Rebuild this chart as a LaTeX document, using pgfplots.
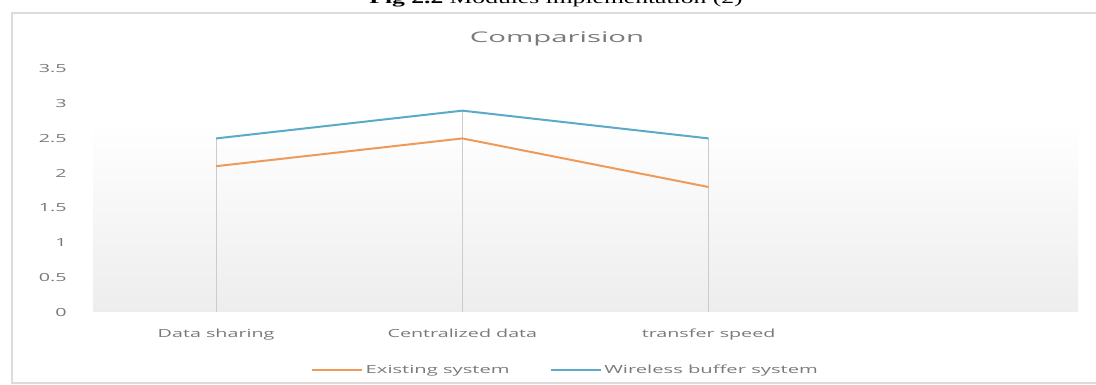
\documentclass[border=0pt]{standalone}
\usepackage{fontspec}
\setmainfont{Liberation Serif}
\newfontfamily\osans{Open Sans}
\usepackage{graphicx}
\usepackage{pgfplots}
\pgfplotsset{compat=1.18}
\definecolor{orgline}{HTML}{EE9A5A}
\definecolor{blueline}{HTML}{5AAAC8}
\definecolor{txt}{HTML}{7A7A7A}
\definecolor{framec}{HTML}{DCDCDC}
\newcommand{\sx}[1]{\scalebox{1.76}[1]{#1}}
\newcommand{\slg}[1]{\scalebox{1.8}[1]{#1}}
\begin{document}
\begin{tikzpicture}[x=1pt,y=1pt]
\useasboundingbox (0,0) rectangle (822,288.75);
\fill[white] (0,0) rectangle (822,288.75);
\draw[framec, line width=0.8pt] (9,1.5) rectangle (830,279);
\node[anchor=base, inner sep=0] at (417,285.75) {\fontsize{12}{14}\selectfont\scalebox{1.6}[1]{\textbf{Fig 2.2} Modules implementation (2)}};
\node[anchor=base, inner sep=0, text=txt] at (417.75,256.5) {\osans\fontsize{11}{13}\selectfont\scalebox{2}[1]{Comparision}};
\begin{axis}[
  at={(69.75pt,54.75pt)}, anchor=south west,
  scale only axis, width=738.75pt, height=182.25pt,
  xmin=-0.5, xmax=3.5, ymin=0, ymax=3.5,
  axis line style={draw=none},
  major tick length=0pt,
  xtick={0,1,2},
  xticklabels={\sx{Data sharing},\sx{Centralized data},\sx{transfer speed}},
  ytick={0,0.5,1,1.5,2,2.5,3,3.5},
  yticklabels={\sx{0},\sx{0.5},\sx{1},\sx{1.5},\sx{2},\sx{2.5},\sx{3},\sx{3.5}},
  ticklabel style={font=\osans\fontsize{8.4}{10}\selectfont, text=txt, inner sep=0pt},
  yticklabel style={anchor=east, xshift=-19.5pt},
  xticklabel style={anchor=base, yshift=-19.5pt},
  legend style={at={(0.48,-0.239)}, anchor=center, draw=none, fill=none,
    legend columns=2, font=\osans\fontsize{8.4}{10}\selectfont, text=txt,
    /tikz/every even column/.append style={column sep=28pt}},
  legend image code/.code={\draw[#1, line width=1.5pt] (0pt,0pt) -- (37.5pt,0pt);},
]
\fill[top color=white, bottom color=black!7, draw=none] (axis cs:-0.5,0) rectangle (axis cs:3.5,2.75);
\draw[black!15, line width=0.6pt] (axis cs:-0.5,0) -- (axis cs:3.5,0);
\addplot[ycomb, draw=black!20, line width=0.6pt, forget plot] coordinates {(0,2.5) (1,2.9) (2,2.5)};
\addplot[orgline, line width=1.5pt, no markers] coordinates {(0,2.1) (1,2.5) (2,1.8)};
\addlegendentry{\slg{Existing system}}
\addplot[blueline, line width=1.5pt, no markers] coordinates {(0,2.5) (1,2.9) (2,2.5)};
\addlegendentry{\slg{Wireless buffer system}}
\end{axis}
\end{tikzpicture}
\end{document}
